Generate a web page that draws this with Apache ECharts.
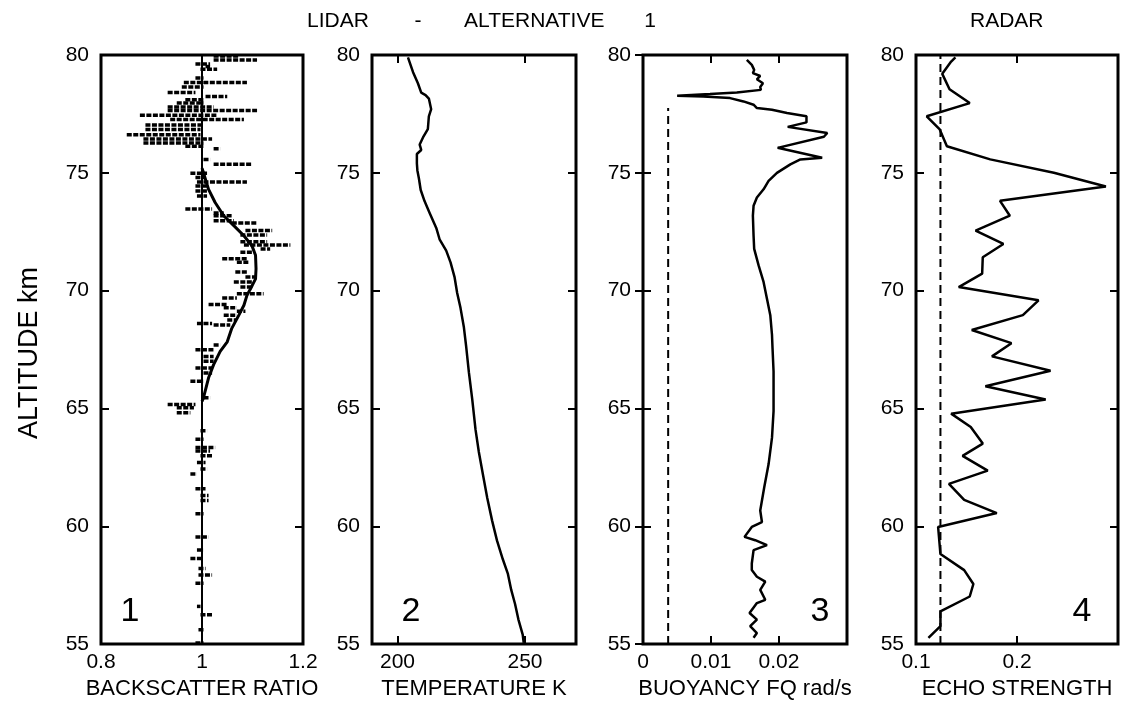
<!DOCTYPE html>
<html>
<head>
<meta charset="utf-8">
<script src="https://cdn.jsdelivr.net/npm/echarts@6/dist/echarts.min.js"></script>
<style>
  html, body { margin: 0; padding: 0; background: #fff; }
  #main { width: 1121px; height: 705px; }
</style>
</head>
<body>
<div id="main"></div>
<script>
// altitude ticks, shared by all panels
var altTicks = [55, 60, 65, 70, 75, 80];

// panel 1: backscatter ratio, smooth curve
var bsCurveAlt = [75.2, 75.0, 74.3, 73.74, 73.18, 72.76, 72.33, 71.9, 71.5, 70.93, 70.5, 70.2, 69.8, 69.38, 68.96, 68.4, 67.83, 67.42, 66.86, 66.3, 65.46, 65.3];
var bsCurve = [1.0, 1.003, 1.013, 1.026, 1.043, 1.063, 1.083, 1.099, 1.106, 1.107, 1.106, 1.099, 1.089, 1.083, 1.073, 1.059, 1.05, 1.036, 1.023, 1.013, 1.003, 1.0];
// panel 1: raw data, dashed horizontal pieces (altitude, from, to)
var bsDashAlt = [79.96, 79.79, 79.62, 79.51, 79.40, 79.02, 78.83, 78.64, 78.41, 78.24, 78.10, 77.96, 77.79, 77.64, 77.44, 77.26, 77.03, 76.84, 76.62, 76.44, 76.27, 76.13, 76.02, 75.57, 75.36, 74.98, 74.80, 74.61, 74.44, 74.23, 74.02, 73.46, 73.29, 73.18, 72.97, 72.87, 72.55, 72.36, 72.08, 71.94, 71.77, 71.63, 71.35, 71.21, 70.79, 70.58, 70.37, 70.15, 69.87, 69.69, 69.41, 69.27, 69.13, 68.96, 68.75, 68.61, 68.54, 67.69, 67.49, 67.21, 67.00, 66.72, 66.50, 66.15, 65.45, 65.17, 65.03, 64.82, 64.05, 63.69, 63.34, 63.20, 62.99, 62.71, 62.43, 62.22, 61.59, 61.31, 61.09, 60.53, 59.55, 58.99, 58.63, 58.21, 57.93, 57.58, 56.60, 56.25, 55.61, 55.05];
var bsDashFrom = [1.023, 1.023, 0.987, 1.007, 0.997, 0.987, 0.964, 0.960, 0.932, 1.007, 0.967, 0.950, 0.932, 0.932, 0.877, 0.937, 0.888, 0.888, 0.851, 0.884, 0.884, 0.967, 1.023, 1.003, 1.023, 0.977, 0.987, 0.990, 0.987, 0.987, 0.990, 0.967, 1.023, 1.023, 1.023, 1.059, 1.086, 1.076, 1.076, 1.083, 1.116, 1.076, 1.040, 1.069, 1.066, 1.086, 1.063, 1.076, 1.069, 1.040, 1.013, 1.043, 1.069, 1.043, 1.050, 0.990, 1.023, 1.023, 0.987, 1.003, 1.003, 0.987, 1.003, 0.977, 1.003, 0.932, 0.950, 0.950, 0.997, 0.987, 0.987, 0.987, 0.997, 0.990, 0.997, 0.977, 0.987, 0.997, 0.997, 0.987, 0.987, 0.990, 0.977, 0.993, 0.993, 0.987, 0.990, 0.997, 0.993, 0.987];
var bsDashTo = [1.073, 1.109, 1.016, 1.016, 1.030, 1.003, 1.089, 1.003, 0.987, 1.050, 1.003, 1.003, 1.023, 1.109, 1.030, 1.083, 1.003, 0.997, 0.997, 1.020, 1.003, 1.003, 1.036, 1.016, 1.099, 1.010, 1.007, 1.089, 1.010, 1.010, 1.010, 1.020, 1.043, 1.059, 1.063, 1.109, 1.139, 1.129, 1.129, 1.175, 1.135, 1.102, 1.089, 1.092, 1.089, 1.106, 1.102, 1.099, 1.122, 1.069, 1.050, 1.069, 1.086, 1.069, 1.069, 1.020, 1.056, 1.036, 1.023, 1.023, 1.023, 1.020, 1.020, 1.003, 1.016, 0.987, 0.984, 0.977, 1.010, 1.003, 1.026, 1.016, 1.020, 1.007, 1.010, 0.990, 1.007, 1.013, 1.013, 1.003, 1.013, 1.003, 0.999, 1.007, 1.020, 1.003, 0.997, 1.020, 1.003, 1.003];
var bsRef = 1;

// panel 2: temperature K
var tempAlt = [79.9, 79.27, 78.8, 78.4, 78.3, 78.15, 77.7, 77.4, 76.85, 76.5, 76.2, 75.97, 75.8, 75.4, 75.1, 74.76, 74.27, 73.8, 73.3, 72.66, 72.18, 71.7, 71.2, 70.56, 69.9, 69.27, 68.47, 67.66, 66.53, 65.4, 64.1, 63.15, 62.2, 61.2, 60.24, 59.4, 58.6, 57.98, 57.3, 56.7, 56.05, 55.4, 55.05];
var tempK = [204.1, 206.1, 208, 209.3, 211, 212.3, 213.2, 212.3, 211.9, 210, 208.7, 209.3, 207.6, 207.6, 207.8, 208.4, 209.1, 210.6, 212.6, 215.2, 216.5, 219.1, 220.8, 222.4, 223.4, 224.7, 226, 226.9, 228, 229.3, 230.6, 231.9, 233.5, 235.2, 237.1, 239, 241.3, 243.3, 244.6, 246.1, 247.4, 249.1, 249.5];

// panel 3: buoyancy frequency rad/s
var bvfAlt = [79.79, 79.58, 79.37, 79.23, 79.11, 78.97, 78.8, 78.64, 78.52, 78.41, 78.34, 78.27, 78.24, 78.17, 78.03, 77.89, 77.75, 77.68, 77.54, 77.4, 77.14, 76.95, 76.69, 76.53, 76.06, 75.64, 75.57, 75.36, 75.0, 74.66, 74.3, 73.95, 73.6, 73.18, 72.33, 71.77, 71.07, 70.37, 69.66, 68.96, 68.12, 67.55, 66.57, 64.89, 63.76, 62.64, 61.66, 60.67, 60.18, 59.97, 59.55, 59.41, 59.2, 58.99, 58.42, 58.14, 57.86, 57.65, 57.3, 56.88, 56.74, 56.32, 56.04, 55.76, 55.47, 55.27];
var bvf = [0.01527, 0.016, 0.01635, 0.01616, 0.01724, 0.01675, 0.01764, 0.01724, 0.01734, 0.0138, 0.00985, 0.00502, 0.00887, 0.0128, 0.01478, 0.01626, 0.01675, 0.01897, 0.02118, 0.02404, 0.02404, 0.02128, 0.0271, 0.0266, 0.0198, 0.02635, 0.02315, 0.02167, 0.0197, 0.01847, 0.01773, 0.01675, 0.01626, 0.01616, 0.01626, 0.01635, 0.017, 0.01773, 0.01823, 0.01872, 0.01897, 0.01905, 0.0192, 0.0192, 0.01897, 0.01847, 0.01783, 0.01724, 0.01749, 0.016, 0.01493, 0.0165, 0.01823, 0.01626, 0.016, 0.016, 0.01675, 0.01798, 0.01724, 0.01798, 0.01675, 0.01567, 0.01675, 0.01576, 0.01675, 0.01626];
var bvfLimit = 0.0037;
var bvfLimitAlt = [55, 77.75];

// panel 4: radar echo strength
var echoAlt = [79.9, 79.72, 79.2, 78.55, 77.96, 77.4, 76.84, 76.13, 75.57, 75.0, 74.42, 73.81, 73.18, 72.55, 71.98, 71.42, 70.72, 70.15, 69.59, 68.96, 68.33, 67.77, 67.21, 66.6, 65.94, 65.38, 64.78, 64.21, 63.51, 62.99, 62.36, 61.8, 61.12, 60.56, 59.97, 58.82, 58.14, 57.55, 57.02, 56.39, 55.76, 55.26];
var echo = [0.139, 0.1348, 0.126, 0.1332, 0.1532, 0.1106, 0.1235, 0.1306, 0.1735, 0.2365, 0.288, 0.1832, 0.1929, 0.159, 0.1865, 0.1661, 0.1655, 0.1423, 0.2213, 0.2058, 0.1552, 0.1945, 0.1752, 0.2332, 0.1687, 0.2284, 0.1348, 0.1542, 0.1661, 0.1461, 0.171, 0.1326, 0.1477, 0.18, 0.1219, 0.1242, 0.1477, 0.1568, 0.1532, 0.1242, 0.1242, 0.1123];
var echoLimit = 0.1242;
var echoLimitAlt = [55, 80];

// x axes: range and tick labels
var xRanges = [[0.8, 1.2], [190, 270], [0, 0.03], [0.1, 0.3]];
var xTicks = [[0.8, 1, 1.2], [200, 250], [0, 0.01, 0.02], [0.1, 0.2]];
var xNames = ['BACKSCATTER RATIO', 'TEMPERATURE K', 'BUOYANCY FQ rad/s', 'ECHO STRENGTH'];
var panelNames = ['1', '2', '3', '4'];

var FONT = '"Liberation Sans", Arial, Helvetica, sans-serif';

function zip(xs, ys) {
    var out = [];
    for (var i = 0; i < xs.length; i++) {
        out.push([xs[i], ys[i]]);
    }
    return out;
}

var gridPos = [
    { left: 101, width: 202 },
    { left: 372, width: 204 },
    { left: 643, width: 204 },
    { left: 916, width: 202 }
];

var grid = [], xAxis = [], yAxis = [];
for (var i = 0; i < 4; i++) {
    grid.push({
        left: gridPos[i].left, width: gridPos[i].width, top: 55, height: 593,
        show: true, borderColor: '#000', borderWidth: 3, backgroundColor: 'transparent'
    });
    // bottom axis with labels
    xAxis.push({
        gridIndex: i, type: 'value', position: 'bottom',
        min: xRanges[i][0], max: xRanges[i][1],
        splitLine: { show: false }, axisLine: { show: false },
        axisTick: { show: true, inside: true, length: 8, customValues: xTicks[i], lineStyle: { color: '#000', width: 2 } },
        axisLabel: { show: true, customValues: xTicks[i], margin: 8, color: '#000', fontSize: 21, fontFamily: FONT },
        name: xNames[i], nameLocation: 'middle', nameGap: 31,
        nameTextStyle: { color: '#000', fontSize: 22, fontFamily: FONT }
    });
    // top axis, ticks only
    xAxis.push({
        gridIndex: i, type: 'value', position: 'top',
        min: xRanges[i][0], max: xRanges[i][1],
        splitLine: { show: false }, axisLine: { show: false },
        axisTick: { show: true, inside: true, length: 8, customValues: xTicks[i], lineStyle: { color: '#000', width: 2 } },
        axisLabel: { show: false }
    });
    yAxis.push({
        gridIndex: i, type: 'value', position: 'left',
        min: 55, max: 80, interval: 5,
        splitLine: { show: false }, axisLine: { show: false },
        axisTick: { show: true, inside: true, length: 8, lineStyle: { color: '#000', width: 2 } },
        axisLabel: { show: true, margin: 12, color: '#000', fontSize: 21, fontFamily: FONT }
    });
    yAxis.push({
        gridIndex: i, type: 'value', position: 'right',
        min: 55, max: 80, interval: 5,
        splitLine: { show: false }, axisLine: { show: false },
        axisTick: { show: true, inside: true, length: 8, lineStyle: { color: '#000', width: 2 } },
        axisLabel: { show: false }
    });
}

var solid = { color: '#000', width: 2.5 };

var series = [
    {
        type: 'custom', xAxisIndex: 0, yAxisIndex: 0,
        data: bsDashAlt.map(function (a, k) { return [a, bsDashFrom[k], bsDashTo[k]]; }),
        encode: { x: [1, 2], y: 0 },
        renderItem: function (params, api) {
            var alt = api.value(0);
            var p0 = api.coord([api.value(1), alt]);
            var p1 = api.coord([api.value(2), alt]);
            return {
                type: 'line',
                shape: { x1: p0[0], y1: p0[1], x2: p1[0], y2: p1[1] },
                style: { stroke: '#000', lineWidth: 3.5, lineDash: [5, 1.5] }
            };
        }
    },
    {
        type: 'line', xAxisIndex: 0, yAxisIndex: 0, showSymbol: false,
        data: [[bsRef, 55], [bsRef, 80]], lineStyle: { color: '#000', width: 2 }
    },
    {
        type: 'line', xAxisIndex: 0, yAxisIndex: 0, showSymbol: false,
        data: zip(bsCurve, bsCurveAlt), lineStyle: { color: '#000', width: 3 }
    },
    {
        type: 'line', xAxisIndex: 2, yAxisIndex: 2, showSymbol: false,
        data: zip(tempK, tempAlt), lineStyle: solid
    },
    {
        type: 'line', xAxisIndex: 4, yAxisIndex: 4, showSymbol: false,
        data: zip(bvf, bvfAlt), lineStyle: solid
    },
    {
        type: 'line', xAxisIndex: 4, yAxisIndex: 4, showSymbol: false,
        data: zip([bvfLimit, bvfLimit], bvfLimitAlt),
        lineStyle: { color: '#000', width: 2, type: [8, 5] }
    },
    {
        type: 'line', xAxisIndex: 6, yAxisIndex: 6, showSymbol: false,
        data: zip(echo, echoAlt), lineStyle: solid
    },
    {
        type: 'line', xAxisIndex: 6, yAxisIndex: 6, showSymbol: false,
        data: zip([echoLimit, echoLimit], echoLimitAlt),
        lineStyle: { color: '#000', width: 2, type: [8, 5] }
    }
];

function label(txt, x, y, size, align, weight) {
    return {
        type: 'text', x: x, y: y,
        style: { text: txt, fill: '#000', fontSize: size, fontFamily: FONT, fontWeight: weight || 'normal', align: align || 'left', verticalAlign: 'middle' }
    };
}

var numX = [130, 411, 820, 1082];
var graphic = [
    label('LIDAR', 307, 21, 21),
    label('-', 418, 21, 21, 'center'),
    label('ALTERNATIVE', 464, 21, 21),
    label('1', 650, 21, 21, 'center'),
    label('RADAR', 970, 21, 21),
    {
        type: 'text', x: 30, y: 353, rotation: Math.PI / 2,
        style: { text: 'ALTITUDE km', fill: '#000', fontSize: 27, fontFamily: FONT, align: 'center', verticalAlign: 'middle' }
    }
];
for (var n = 0; n < 4; n++) {
    graphic.push(label(panelNames[n], numX[n], 612, 34, 'center'));
}

var myChart = echarts.init(document.getElementById('main'));
myChart.setOption({
    animation: false,
    backgroundColor: '#fff',
    grid: grid,
    xAxis: xAxis,
    yAxis: yAxis,
    series: series,
    graphic: graphic
});
</script>
</body>
</html>
